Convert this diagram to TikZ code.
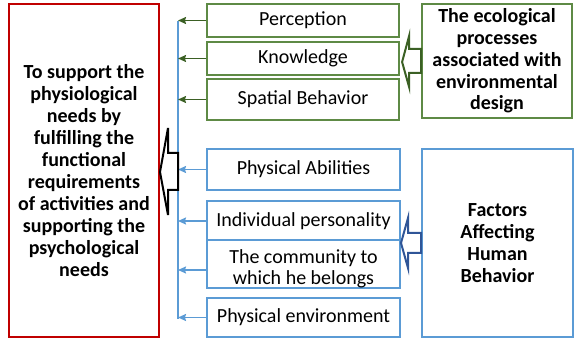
\documentclass[tikz,border=0pt]{standalone}
\usepackage{fontspec}
\setmainfont{Carlito}
\usetikzlibrary{arrows.meta,calc}
\definecolor{boxred}{HTML}{C00000}
\definecolor{boxgreen}{HTML}{5E8A45}
\definecolor{darkgreen}{HTML}{3B6024}
\definecolor{boxblue}{HTML}{5B9BD5}
\definecolor{arrowblue}{HTML}{2F5597}
\begin{document}
\begin{tikzpicture}[x=1pt,y=-1pt,
  every node/.style={font=\fontsize{20}{22}\selectfont, inner sep=0pt, align=center},
  goalbox/.style={draw=boxred, line width=2pt, minimum width=150pt, minimum height=333pt,
    font=\fontsize{20}{22}\selectfont\bfseries},
  greenbox/.style={draw=boxgreen, line width=1.8pt, fill=white, minimum width=192pt},
  bluebox/.style={draw=boxblue, line width=2pt, fill=white, minimum width=193pt},
  sourcegreen/.style={draw=boxgreen, line width=1.8pt, minimum width=150pt, minimum height=114pt,
    font=\fontsize{20}{21.7}\selectfont\bfseries},
  sourceblue/.style={draw=boxblue, line width=2pt, minimum width=151pt, minimum height=188pt,
    font=\fontsize{20}{22}\selectfont\bfseries},
  garrow/.style={draw=darkgreen, line width=1.6pt, -{Stealth[length=8pt,width=7pt,inset=1pt]}},
  barrow/.style={draw=boxblue, line width=1.6pt, -{Stealth[length=8pt,width=7pt,inset=1pt]}},
  bus/.style={draw=boxblue, line width=1.6pt},
  hollow/.style={line width=2pt, fill=white, line join=miter}
]
\useasboundingbox (0,0) rectangle (574,339);

% goal box on the left
\node[goalbox] (goal) at (84,170.5) {To support the\\physiological\\needs by\\fulfilling the\\functional\\requirements\\of activities and\\supporting the\\psychological\\needs};

% ecological processes
\node[greenbox, minimum height=33pt] (perc) at (303,20.5) {Perception};
\node[greenbox, minimum height=33pt] (know) at (303,58.5) {Knowledge};
\node[greenbox, minimum height=41pt] (spat) at (303,99.5) {Spatial Behavior};
\node[sourcegreen] (eco) at (497,61) {The ecological\\processes\\associated with\\environmental\\design};

% factors affecting human behaviour
\node[bluebox, minimum height=41pt] (abil) at (303.5,169.5) {Physical Abilities};
\node[bluebox, minimum height=40pt] (pers) at (303.5,221) {Individual personality};
\node[bluebox, minimum height=48pt,
  label={[font=\fontsize{20}{21}\selectfont, align=center, yshift=-5pt]center:The community to\\which he belongs}]
  (comm) at (303.5,264) {};
\node[bluebox, minimum height=39pt] (envi) at (303.5,317.5) {Physical environment};
\node[sourceblue] (fact) at (497.5,243) {Factors\\Affecting\\Human\\Behavior};

% collecting line
\coordinate (bustop) at (178,21);
\coordinate (busbot) at (178,319);
\draw[bus] (bustop) -- (busbot);

\draw[garrow] (perc.west) -- (perc.west -| bustop);
\draw[garrow] (know.west) -- (know.west -| bustop);
\draw[garrow] (spat.west) -- (spat.west -| bustop);
\draw[barrow] (abil.west) -- (abil.west -| bustop);
\draw[barrow] (pers.west) -- (pers.west -| bustop);
\draw[barrow] ($(comm.west)+(0,6)$) -- ($(comm.west -| bustop)+(0,6)$);
\draw[barrow] (envi.west) -- (envi.west -| bustop);

% hollow block arrows
\draw[hollow, draw=black] ($(goal.east)+(0,1.5)$) -- ++(8,-44) -- ++(0,25) -- ++(10,0)
  -- ++(0,37) -- ++(-10,0) -- ++(0,25) -- cycle;
\draw[hollow, draw=darkgreen] ($(eco.west)+(0,-12)$) -- ++(-12,0) -- ++(0,-13)
  -- ($(eco.west)+(-19,1)$) -- ($(eco.west)+(-12,26)$) -- ++(0,-14) -- ($(eco.west)+(0,12)$) -- cycle;
\draw[hollow, draw=arrowblue] ($(fact.west)+(0,-10)$) -- ++(-13,0) -- ++(0,-15)
  -- ($(fact.west)+(-20,0)$) -- ($(fact.west)+(-13,25)$) -- ++(0,-15) -- ($(fact.west)+(0,10)$) -- cycle;
\end{tikzpicture}
\end{document}
